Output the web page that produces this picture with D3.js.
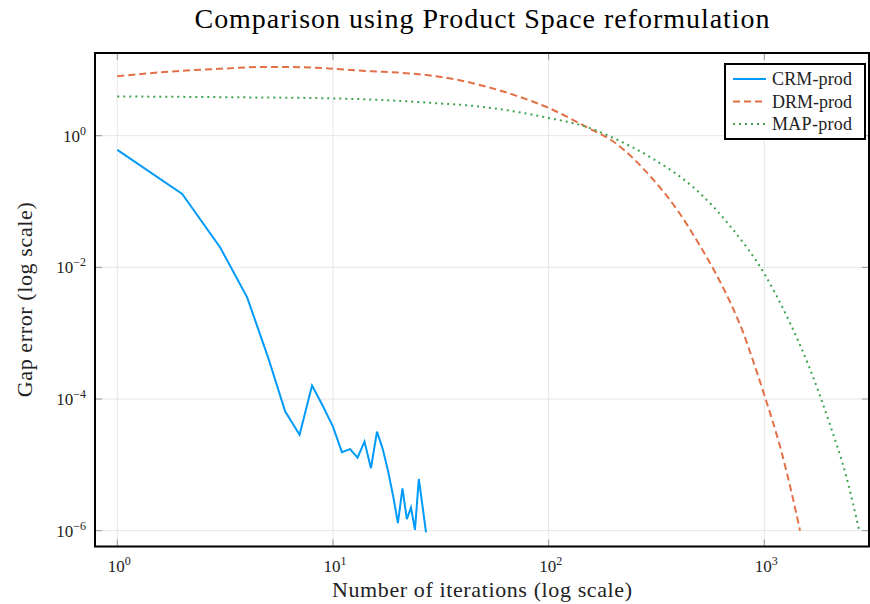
<!DOCTYPE html>
<html lang="en">
<head>
<meta charset="UTF-8">
<title>Comparison using Product Space reformulation</title>
<script src="https://cdnjs.cloudflare.com/ajax/libs/d3/7.8.5/d3.min.js"></script>
<style>
  body { margin: 0; background: #fff; }
  svg { display: block; font-family: "Liberation Serif", "DejaVu Serif", serif; }
  .grid line { stroke: #e6e6e6; stroke-width: 1; }
  .tick-mark { stroke: #999; stroke-width: 1; }
</style>
</head>
<body>
<svg id="chart" width="870" height="604"></svg>
<script>
// Data
const crmIter = [1, 2, 3, 4, 5, 6, 7, 8, 9, 10, 11, 12, 13, 14, 15, 16, 17, 18, 19, 20, 21, 22, 23, 24, 25, 26, 27];
const crmGap = [0.61, 0.13, 0.02, 0.0035, 4.3e-4, 6.5e-5, 2.86e-5, 1.6e-4, 7.7e-5, 3.8e-5, 1.56e-5, 1.73e-5,
  1.29e-5, 2.26e-5, 8.9e-6, 3.2e-5, 1.75e-5, 8.1e-6, 3.4e-6, 1.3e-6, 4.4e-6, 1.5e-6, 2.24e-6, 1.03e-6,
  6.1e-6, 2.4e-6, 9.4e-7];

const drmIter = [1, 2, 3, 5, 7, 10, 15, 20, 25, 30, 40, 50, 70, 100, 150, 200, 300, 400, 500, 600, 700, 800, 900, 1000, 1200, 1340, 1465];
const drmGap = [8.0, 9.7, 10.4, 11.1, 11.0, 10.4, 9.5, 9.1, 8.6, 8.0, 6.8, 5.7, 4.1, 2.64, 1.35, 0.81, 0.23, 0.07,
  0.022, 0.0077, 0.0028, 0.001, 3.3e-4, 1.15e-4, 1.6e-5, 3.7e-6, 1.0e-6];

const mapIter = [1, 3, 10, 30, 50, 70, 100, 150, 200, 300, 500, 700, 1000, 1300, 1600, 2000, 2400, 2750];
const mapGap = [3.95, 3.85, 3.69, 3.12, 2.73, 2.32, 1.86, 1.36, 0.92, 0.46, 0.136, 0.041, 0.008, 0.00155,
  3.3e-4, 4.4e-5, 6.6e-6, 1.03e-6];

const xTicks = [1, 10, 100, 1000];
const xTickExp = ["0", "1", "2", "3"];
const yTicks = [1, 1e-2, 1e-4, 1e-6];
const yTickExp = ["0", "−2", "−4", "−6"];

const seriesNames = ["CRM-prod", "DRM-prod", "MAP-prod"];
const colors = ["#009AFA", "#E36F47", "#3EA44E"];
const dashes = [null, "7,4", "2,4"];

const svg = d3.select("#chart");
const plot = { left: 95, right: 869, top: 53, bottom: 546.5 };

const x = d3.scaleLog()
  .domain([Math.pow(10, -0.1034), Math.pow(10, 3.4854)])
  .range([plot.left, plot.right]);
const y = d3.scaleLog()
  .domain([Math.pow(10, -6.2403), Math.pow(10, 1.2563)])
  .range([plot.bottom, plot.top]);

// grid
const grid = svg.append("g").attr("class", "grid");
grid.selectAll(".gx").data(xTicks).enter().append("line")
  .attr("x1", d => x(d)).attr("x2", d => x(d))
  .attr("y1", plot.top).attr("y2", plot.bottom);
grid.selectAll(".gy").data(yTicks).enter().append("line")
  .attr("x1", plot.left).attr("x2", plot.right)
  .attr("y1", d => y(d)).attr("y2", d => y(d));

// series
const series = [
  d3.zip(crmIter, crmGap),
  d3.zip(drmIter, drmGap),
  d3.zip(mapIter, mapGap)
];
const curves = [d3.curveLinear, d3.curveMonotoneX, d3.curveMonotoneX];

svg.append("clipPath").attr("id", "clip").append("rect")
  .attr("x", plot.left).attr("y", plot.top)
  .attr("width", plot.right - plot.left).attr("height", plot.bottom - plot.top);

series.forEach((s, i) => {
  const line = d3.line()
    .x(d => x(d[0]))
    .y(d => y(d[1]))
    .curve(curves[i]);
  svg.append("path")
    .datum(s)
    .attr("clip-path", "url(#clip)")
    .attr("fill", "none")
    .attr("stroke", colors[i])
    .attr("stroke-width", 2)
    .attr("stroke-dasharray", dashes[i])
    .attr("d", line);
});

// tick marks (inside, all four sides)
const tl = 7;
const ticks = svg.append("g");
xTicks.forEach(t => {
  ticks.append("line").attr("class", "tick-mark")
    .attr("x1", x(t)).attr("x2", x(t)).attr("y1", plot.bottom).attr("y2", plot.bottom - tl);
  ticks.append("line").attr("class", "tick-mark")
    .attr("x1", x(t)).attr("x2", x(t)).attr("y1", plot.top).attr("y2", plot.top + tl);
});
yTicks.forEach(t => {
  ticks.append("line").attr("class", "tick-mark")
    .attr("x1", plot.left).attr("x2", plot.left + tl).attr("y1", y(t)).attr("y2", y(t));
  ticks.append("line").attr("class", "tick-mark")
    .attr("x1", plot.right).attr("x2", plot.right - tl).attr("y1", y(t)).attr("y2", y(t));
});

// frame
svg.append("rect")
  .attr("x", plot.left).attr("y", plot.top)
  .attr("width", plot.right - plot.left).attr("height", plot.bottom - plot.top)
  .attr("fill", "none").attr("stroke", "#000").attr("stroke-width", 2);

// tick labels
xTicks.forEach((t, i) => {
  const txt = svg.append("text")
    .attr("x", x(t) + 2).attr("y", 572)
    .attr("text-anchor", "middle")
    .attr("font-size", 17).attr("fill", "#222");
  txt.append("tspan").text("10");
  txt.append("tspan").attr("dy", -7).attr("font-size", 12).text(xTickExp[i]);
});
yTicks.forEach((t, i) => {
  const txt = svg.append("text")
    .attr("x", 86).attr("y", y(t) + 6)
    .attr("text-anchor", "end")
    .attr("font-size", 17).attr("fill", "#222");
  txt.append("tspan").text("10");
  txt.append("tspan").attr("dy", -7).attr("font-size", 12).text(yTickExp[i]);
});

// axis titles
svg.append("text")
  .attr("x", (plot.left + plot.right) / 2).attr("y", 597)
  .attr("text-anchor", "middle").attr("font-size", 22).attr("fill", "#222")
  .attr("textLength", 300).attr("lengthAdjust", "spacing")
  .text("Number of iterations (log scale)");
svg.append("text")
  .attr("transform", `translate(32,${(plot.top + plot.bottom) / 2}) rotate(-90)`)
  .attr("text-anchor", "middle").attr("font-size", 22).attr("fill", "#222")
  .attr("textLength", 195).attr("lengthAdjust", "spacing")
  .text("Gap error (log scale)");

// title
svg.append("text")
  .attr("x", (plot.left + plot.right) / 2).attr("y", 28)
  .attr("text-anchor", "middle").attr("font-size", 28).attr("fill", "#000")
  .attr("textLength", 575).attr("lengthAdjust", "spacing")
  .text("Comparison using Product Space reformulation");

// legend
const lg = svg.append("g").attr("transform", "translate(725,64)");
lg.append("rect").attr("width", 140).attr("height", 75)
  .attr("fill", "#fff").attr("stroke", "#000").attr("stroke-width", 2);
seriesNames.forEach((name, i) => {
  const ly = 15 + i * 22.5;
  lg.append("line")
    .attr("x1", 8).attr("x2", 41).attr("y1", ly).attr("y2", ly)
    .attr("stroke", colors[i]).attr("stroke-width", 2)
    .attr("stroke-dasharray", dashes[i]);
  lg.append("text")
    .attr("x", 47).attr("y", ly + 6)
    .attr("font-size", 18).attr("fill", "#222")
    .attr("textLength", 80).attr("lengthAdjust", "spacing")
    .text(name);
});
</script>
</body>
</html>
